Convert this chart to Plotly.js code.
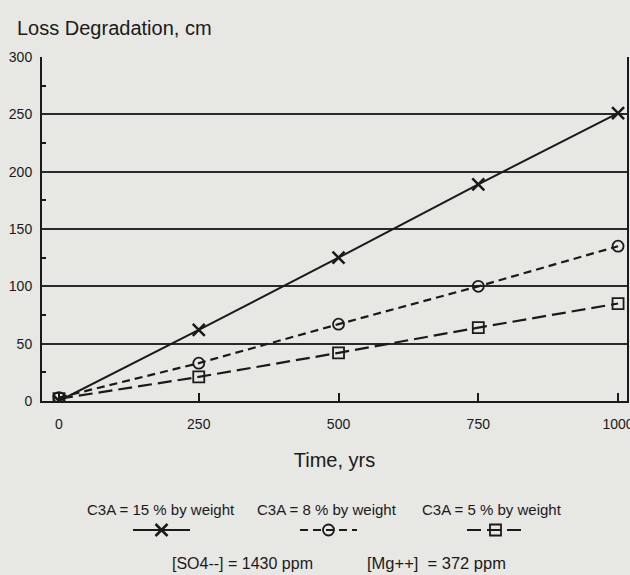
<!DOCTYPE html>
<html>
<head>
<meta charset="utf-8">
<script src="https://cdn.plot.ly/plotly-3.0.1.min.js"></script>
<style>html,body{margin:0;padding:0;background:#e7e7e4;overflow:hidden;}#chart{width:630px;height:575px;}</style>
</head>
<body>
<div id="chart"></div>
<script>
const years = [0, 250, 500, 750, 1000];
const c3a15 = [0, 62, 125, 189, 251];
const c3a8 = [3, 33, 67, 100, 135];
const c3a5 = [2, 21, 42, 64, 85];
const seriesNames = ['C3A = 15 % by weight', 'C3A = 8 % by weight', 'C3A = 5 % by weight'];
const xTicks = [0, 250, 500, 750, 1000];
const yTicks = [0, 50, 100, 150, 200, 250, 300];
const footnote = ['[SO4--] = 1430 ppm', '[Mg++] &nbsp;= 372 ppm'];

const ink = '#1a1a1a';
const font = '"Liberation Sans", Arial, sans-serif';

const traces = [
  {x: years, y: c3a15, name: ' ', mode: 'lines+markers',
   line: {color: ink, width: 2, dash: 'solid'},
   marker: {symbol: 'x-thin-open', size: 12, color: ink, line: {color: ink, width: 2.5}}},
  {x: years, y: c3a8, name: ' ', mode: 'lines+markers',
   line: {color: ink, width: 2.2, dash: '8px,5px'},
   marker: {symbol: 'circle-open', size: 11, color: ink, line: {color: ink, width: 1.8}}},
  {x: years, y: c3a5, name: ' ', mode: 'lines+markers',
   line: {color: ink, width: 2.2, dash: '14px,6px'},
   marker: {symbol: 'square-open', size: 11, color: ink, line: {color: ink, width: 1.8}}}
];

const L = 42, T = 57, W = 585, H = 344;
function px(x) { return (x - L) / W; }
function py(y) { return (T + H - y) / H; }

const legendCenters = [161, 327, 492];
const annotations = seriesNames.map((s, i) => ({
  text: s, xref: 'paper', yref: 'paper', x: px(legendCenters[i]), y: py(510),
  xanchor: 'center', yanchor: 'middle', showarrow: false,
  font: {family: font, size: 15, color: ink}
}));
annotations.push({text: footnote[0], xref: 'paper', yref: 'paper', x: px(170), y: py(563),
  xanchor: 'left', yanchor: 'middle', showarrow: false, font: {family: font, size: 16, color: ink}});
annotations.push({text: footnote[1], xref: 'paper', yref: 'paper', x: px(365), y: py(563),
  xanchor: 'left', yanchor: 'middle', showarrow: false, font: {family: font, size: 16.5, color: ink}});

const layout = {
  width: 630, height: 575,
  margin: {l: L, r: 630 - L - W, t: T, b: 575 - T - H, pad: 0},
  paper_bgcolor: '#e7e7e4', plot_bgcolor: '#e7e7e4',
  title: {text: 'Loss Degradation, cm', x: 17 / 630, xanchor: 'left', xref: 'container',
          y: 1 - 28 / 575, yanchor: 'middle', yref: 'container',
          font: {family: font, size: 20, color: ink}},
  xaxis: {range: [-30.4, 1016], tickvals: xTicks, ticktext: xTicks.map(String), automargin: false,
          showgrid: false, zeroline: false, showline: true, linecolor: ink, linewidth: 2,
          mirror: false, ticks: 'inside', ticklen: 8, tickwidth: 2, tickcolor: ink,
          ticklabelstandoff: 9, ticklabeloverflow: 'allow',
          tickfont: {family: font, size: 14, color: ink},
          title: {text: 'Time, yrs', font: {family: font, size: 20, color: ink}, standoff: 22}},
  yaxis: {range: [0, 300], tickvals: yTicks, ticktext: yTicks.map(String), automargin: false,
          showgrid: true, gridcolor: '#2a2a2a', gridwidth: 2, zeroline: false,
          showline: true, linecolor: ink, linewidth: 2, mirror: true,
          ticks: '', ticklabelstandoff: 5, tickfont: {family: font, size: 14, color: ink},
          minor: {dtick: 50, tick0: 25, ticks: 'inside', ticklen: 4, tickwidth: 2, tickcolor: ink, showgrid: false}},
  showlegend: true,
  legend: {orientation: 'h', xref: 'container', yref: 'container',
           x: 128 / 630, xanchor: 'left', y: 1 - 530 / 575, yanchor: 'middle',
           bgcolor: 'rgba(0,0,0,0)', itemwidth: 57, entrywidth: 95, entrywidthmode: 'pixels',
           font: {family: font, size: 12, color: ink}, itemclick: false},
  annotations: annotations
};

Plotly.newPlot('chart', traces, layout, {staticPlot: true, displayModeBar: false});
</script>
</body>
</html>
